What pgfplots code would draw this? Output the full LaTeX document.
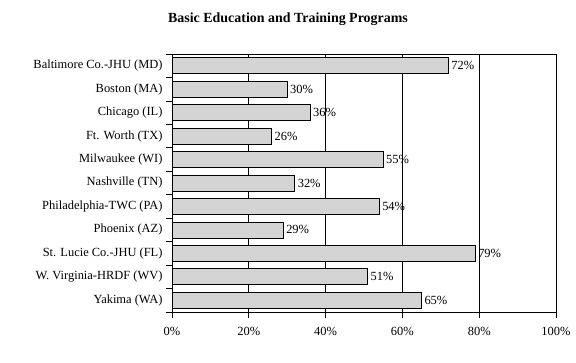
\documentclass[border=0pt]{standalone}
\usepackage{pgfplots}
\pgfplotsset{compat=1.18}
\usepackage{fontspec}
\setmainfont{Liberation Serif}
\definecolor{barfill}{RGB}{212,212,212}
\begin{document}
\begin{tikzpicture}[x=1bp,y=1bp]
\path (0,0) rectangle (576,362);
\node[font=\fontsize{14}{16}\selectfont\bfseries] at (288,343) {Basic Education and Training Programs};
\begin{axis}[
  at={(172bp,50bp)}, anchor=south west,
  scale only axis, width=384bp, height=258bp,
  xmin=0, xmax=100, ymin=-0.5, ymax=10.5, y dir=reverse,
  xbar, bar width=16bp,
  xtick={0,20,40,60,80,100},
  xticklabels={0\%,20\%,40\%,60\%,80\%,100\%},
  ytick={-0.5,0.5,...,10.5},
  yticklabels={},
  extra y ticks={0,...,10},
  extra y tick labels={Baltimore Co.-JHU (MD),Boston (MA),Chicago (IL),Ft. Worth (TX),Milwaukee (WI),Nashville (TN),Philadelphia-TWC (PA),Phoenix (AZ),St. Lucie Co.-JHU (FL),W. Virginia-HRDF (WV),Yakima (WA)},
  extra y tick style={major tick length=0pt, grid=none, yticklabel style={xshift=-6bp}},
  ytick pos=left, xtick pos=bottom,
  tick style={black, line width=0.8pt},
  tick align=outside,
  major tick length=6bp,
  xmajorgrids, grid style={black, line width=0.8pt},
  axis line style={black, line width=0.8pt},
  tick label style={font=\fontsize{12.5}{14}\selectfont},
  xticklabel style={yshift=-6bp},
  point meta=explicit symbolic,
  nodes near coords,
  nodes near coords style={font=\fontsize{12.5}{14}\selectfont, anchor=west, inner sep=2.5bp},
  clip=false,
]
\addplot[draw=black, line width=0.8pt, fill=barfill] coordinates {
(72,0)[72\%] (30,1)[30\%] (36,2)[36\%] (26,3)[26\%] (55,4)[55\%] (32,5)[32\%]
(54,6)[54\%] (29,7)[29\%] (79,8)[79\%] (51,9)[51\%] (65,10)[65\%]
};
\end{axis}
\end{tikzpicture}
\end{document}
